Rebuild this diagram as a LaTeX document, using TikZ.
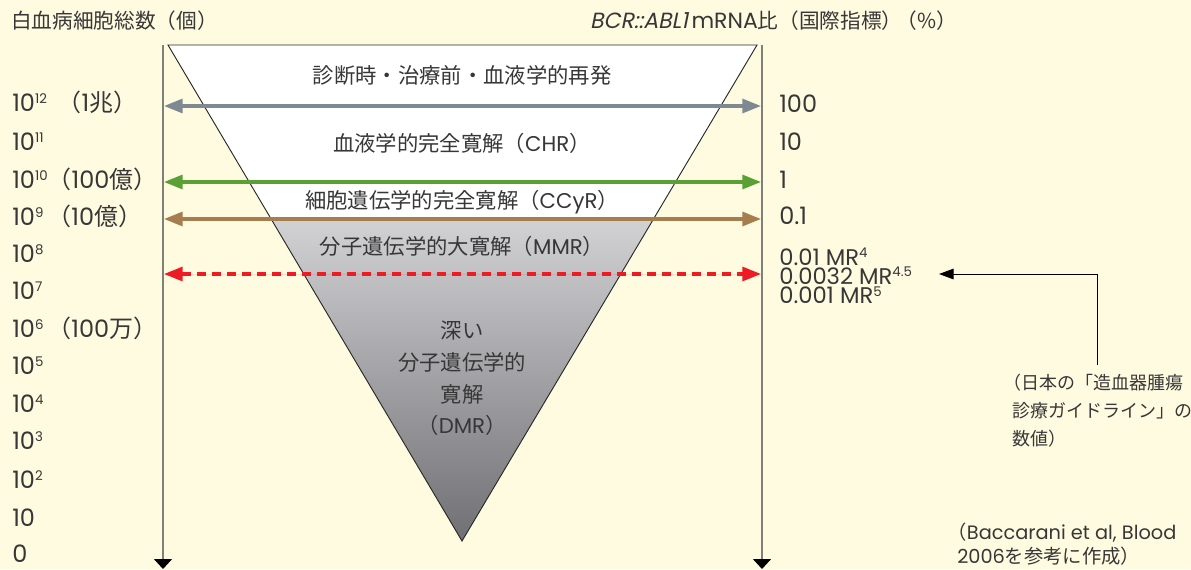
\documentclass[tikz,border=0pt]{standalone}
\usepackage{fontspec}
\setmainfont{Poppins}
\newfontfamily\jp{Noto Sans CJK JP}
\newfontfamily\popsl[FakeSlant=0.2]{Poppins}
\usetikzlibrary{arrows.meta,calc}
\definecolor{bg}{RGB}{254,251,224}
\definecolor{txtc}{RGB}{55,55,55}
\definecolor{axisc}{RGB}{128,128,120}
\definecolor{grayarr}{RGB}{126,137,145}
\definecolor{greenarr}{RGB}{90,160,52}
\definecolor{brownarr}{RGB}{166,125,78}
\definecolor{redarr}{RGB}{237,28,36}
\definecolor{shtop}{RGB}{210,210,213}
\definecolor{shbot}{RGB}{112,112,116}
\definecolor{edgec}{RGB}{40,40,40}
\newcommand\supx[1]{\raisebox{5.8pt}{\fontsize{10}{10}\selectfont #1}}
\begin{document}
\begin{tikzpicture}[x=0.75pt,y=-0.75pt,
  lab/.style={inner sep=0pt, text=txtc, anchor=base west, font=\fontsize{18}{20}\selectfont},
  ttl/.style={inner sep=0pt, text=txtc, font=\fontsize{15.5}{17}\selectfont},
  tri/.style={inner sep=0pt, text=txtc, anchor=base, font=\fontsize{16}{18}\selectfont},
  note/.style={inner sep=0pt, text=txtc, anchor=base west, font=\fontsize{13.5}{16}\selectfont},
  axisline/.style={draw=axisc, line width=1.1pt, -{Triangle[length=7.5pt,width=13.5pt,color=black]}},
  harrow/.style={line width=2.3pt, {Triangle[length=14pt,width=10.5pt]}-{Triangle[length=14pt,width=10.5pt]}},
  notearrow/.style={draw=black, line width=0.7pt, -{Triangle[length=11pt,width=8pt]}}
]
\fill[bg] (0,0) rectangle (1191,569);
\useasboundingbox (0,0) rectangle (1191,569);

% triangle
\coordinate (TL) at (168,45);
\coordinate (TR) at (757,45);
\coordinate (AP) at (462,541);
\coordinate (ML) at ($(TL)!0.3508!(AP)$);
\coordinate (MR) at ($(TR)!0.3508!(AP)$);
\fill[white] (TL) -- (TR) -- (AP) -- cycle;
\shade[top color=shtop, bottom color=shbot] (ML) -- (MR) -- (AP) -- cycle;
\draw[edgec, line width=0.7pt, line join=miter] (TL) -- (TR) -- (AP) -- cycle;

% axes
\coordinate (LA) at (163,45);
\coordinate (LB) at (163,569);
\coordinate (RA) at (762,45);
\coordinate (RB) at (762,569);
\draw[axisline] (LA) -- (LB);
\draw[axisline] (RA) -- (RB);

% horizontal arrows
\coordinate (g1) at (164,106); \coordinate (g2) at (761,106);
\coordinate (n1) at (164,182); \coordinate (n2) at (761,182);
\coordinate (b1) at (164,219); \coordinate (b2) at (761,219);
\coordinate (r1) at (164,274); \coordinate (r2) at (761,274);
\draw[harrow, draw=grayarr, fill=grayarr] (g1) -- (g2);
\draw[harrow, draw=greenarr, fill=greenarr] (n1) -- (n2);
\draw[harrow, draw=brownarr, fill=brownarr] (b1) -- (b2);
\draw[harrow, draw=redarr, fill=redarr, dash pattern=on 6.75pt off 4.5pt] (r1) -- (r2);

% titles
\node[ttl, anchor=base west] (tl) at (11,28) {\jp 白血病細胞総数（個）};
\node[ttl, anchor=base east] (tr) at (957,28) {{\fontsize{16.5}{17}\selectfont\popsl BCR::ABL1}\,{\fontsize{16.5}{17}\selectfont mRNA}{\jp 比（国際指標）\hspace{-0.3em}（\%）}};

% left labels
\node[lab] (l12) at (12,111.4) {10\supx{12}\hspace{8pt}{\jp（}1{\jp 兆）}};
\node[lab] (l11) at (12,150.4) {10\supx{11}};
\node[lab] (l10) at (12,188.4) {10\supx{10}{\jp（}100{\jp 億）}};
\node[lab] (l9) at (12,225.4) {10\supx{9}\hspace{3pt}{\jp（}10{\jp 億）}};
\node[lab] (l8) at (12,262.4) {10\supx{8}};
\node[lab] (l7) at (12,299.4) {10\supx{7}};
\node[lab] (l6) at (12,337.4) {10\supx{6}\hspace{3pt}{\jp（}100{\jp 万）}};
\node[lab] (l5) at (12,374.4) {10\supx{5}};
\node[lab] (l4) at (12,412.4) {10\supx{4}};
\node[lab] (l3) at (12,449.4) {10\supx{3}};
\node[lab] (l2) at (12,488.4) {10\supx{2}};
\node[lab] (l1) at (12,526.4) {10};
\node[lab] (l0) at (12,562.5) {0};

% right labels
\node[lab] (r100) at (779,112.4) {100};
\node[lab] (r10) at (779,150.4) {10};
\node[lab] (r1l) at (779,188.4) {1};
\node[lab] (r01) at (779,224.4) {0.1};
\node[lab, anchor=north west, align=left, font=\fontsize{17}{14.6}\selectfont] (rmr) at (779,247.5)
  {0.01 MR\supx{4}\\0.0032 MR\supx{4.5}\\0.001 MR\supx{5}};

% triangle texts
\node[tri] (t1) at (462,83) {\jp 診断時・治療前・血液学的再発};
\node[tri] (t2) at (462,151) {{\jp 血液学的完全寛解（}CHR{\jp ）}};
\node[tri] (t3) at (462,208) {{\jp 細胞遺伝学的完全寛解（}CCyR{\jp ）}};
\node[tri] (t4) at (462,254) {{\jp 分子遺伝学的大寛解（}MMR{\jp ）}};
\node[tri] (d1) at (462,338) {\jp 深い};
\node[tri] (d2) at (462,370) {\jp 分子遺伝学的};
\node[tri] (d3) at (462,402) {\jp 寛解};
\node[tri] (d4) at (462,433) {{\jp （}DMR{\jp ）}};

% note
\node[note] (nt1) at (1012,389) {\hspace*{-0.5em}{\jp （日本の「造血器腫瘍}};
\node[note] (nt2) at (1012,417) {\jp 診療ガイドライン」の};
\node[note] (nt3) at (1012,445) {\jp 数値）};
\coordinate (NB) at (1097,365);
\coordinate (NT) at (939,274);
\draw[notearrow] (NB) |- (NT);

\node[note, font=\fontsize{14.5}{16}\selectfont] (bc1) at (957,539.5) {\hspace*{-0.5em}{\jp （}Baccarani et al, Blood};
\node[note, font=\fontsize{14.5}{16}\selectfont] (bc2) at (957,563) {2006{\jp を参考に作成）}};
\end{tikzpicture}
\end{document}
